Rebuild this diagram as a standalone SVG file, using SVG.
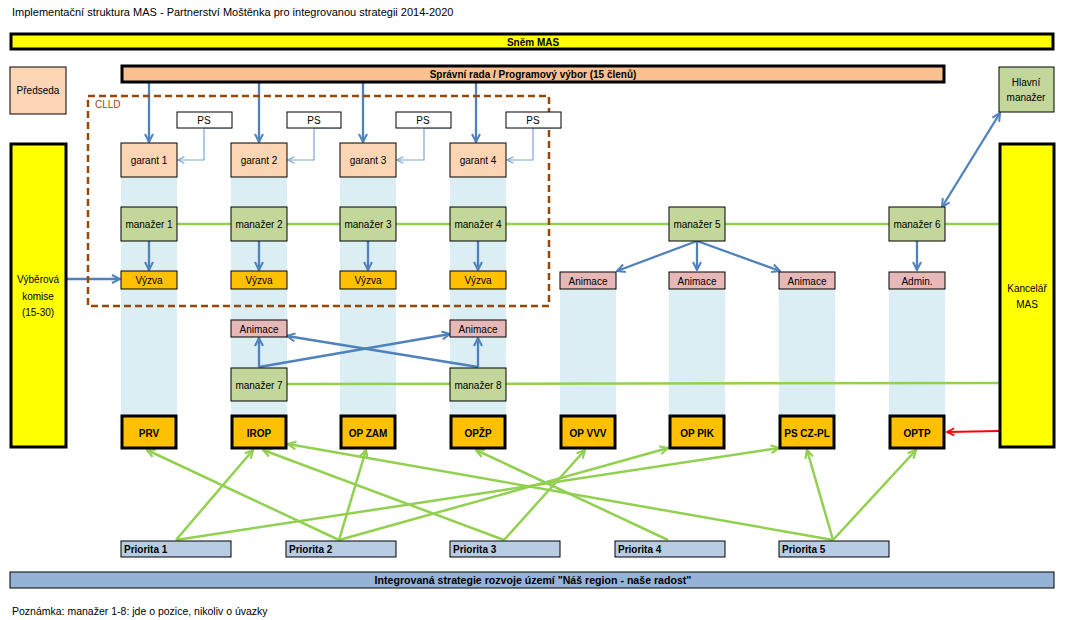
<svg xmlns="http://www.w3.org/2000/svg" width="1067" height="620" viewBox="0 0 1067 620">
<style>
text{font-family:"Liberation Sans",Arial,sans-serif;font-size:10px;fill:#000;dominant-baseline:central}
.c{text-anchor:middle}
.b{font-weight:bold}
.thick{stroke:#000;stroke-width:3}
.thin{stroke:#000;stroke-width:1}
.strip{fill:#DAEEF3}
.gar{fill:#FCD5B4}
.man{fill:#C4D79B}
.vyz{fill:#FFC000}
.ani{fill:#E6B9B8}
.prog{fill:#FFC000;stroke:#000;stroke-width:3}
.pri{fill:#B8CCE4;stroke:#000;stroke-width:1}
.ps{fill:#fff;stroke:#000;stroke-width:1}
.blue{stroke:#4F81BD;stroke-width:2.3;fill:none}
.lblue{stroke:#7FA3D3;stroke-width:1.2;fill:none}
.green{stroke:#92D050;stroke-width:2.5;fill:none}
.red{stroke:#FF0000;stroke-width:2;fill:none}
</style>
<defs>
<marker id="ab" viewBox="0 0 10 10" refX="9" refY="5" markerWidth="10" markerHeight="10" markerUnits="userSpaceOnUse" orient="auto-start-reverse"><path d="M1,1 L9,5 L1,9" fill="none" stroke="#4F81BD" stroke-width="2"/></marker>
<marker id="al" viewBox="0 0 10 10" refX="9" refY="5" markerWidth="8" markerHeight="8" markerUnits="userSpaceOnUse" orient="auto"><path d="M1,1 L9,5 L1,9" fill="none" stroke="#7FA3D3" stroke-width="1.5"/></marker>
<marker id="ag" viewBox="0 0 10 10" refX="9" refY="5" markerWidth="10" markerHeight="10" markerUnits="userSpaceOnUse" orient="auto"><path d="M1,1 L9,5 L1,9" fill="none" stroke="#92D050" stroke-width="2.2"/></marker>
<marker id="ar" viewBox="0 0 10 10" refX="9" refY="5" markerWidth="9" markerHeight="9" markerUnits="userSpaceOnUse" orient="auto"><path d="M1,1 L9,5 L1,9" fill="none" stroke="#FF0000" stroke-width="2"/></marker>
</defs>
<rect width="1067" height="620" fill="#fff"/>
<text x="12" y="12" style="font-size:11px">Implementační struktura MAS - Partnerství Moštěnka pro integrovanou strategii 2014-2020</text>

<g id="strips">
<rect class="strip" x="121" y="177" width="56" height="238"/>
<rect class="strip" x="231" y="177" width="56" height="238"/>
<rect class="strip" x="340" y="177" width="56" height="238"/>
<rect class="strip" x="450" y="177" width="56" height="238"/>
<rect class="strip" x="560" y="289" width="56" height="126"/>
<rect class="strip" x="669" y="289" width="56" height="126"/>
<rect class="strip" x="779" y="289" width="56" height="126"/>
<rect class="strip" x="889" y="289" width="56" height="126"/>
</g>

<g id="connectors">
<line class="green" x1="177" y1="224" x2="999" y2="224"/>
<line class="green" x1="287" y1="384" x2="999" y2="383"/>
<line class="blue" x1="149" y1="83" x2="149" y2="142" marker-end="url(#ab)"/>
<line class="blue" x1="259" y1="83" x2="259" y2="142" marker-end="url(#ab)"/>
<line class="blue" x1="363" y1="83" x2="363" y2="142" marker-end="url(#ab)"/>
<line class="blue" x1="476" y1="83" x2="476" y2="142" marker-end="url(#ab)"/>
<polyline class="lblue" points="232,128 204,128 204,160 178,160" marker-end="url(#al)"/>
<polyline class="lblue" points="341,128 314,128 314,160 288,160" marker-end="url(#al)"/>
<polyline class="lblue" points="451,128 424,128 424,160 397,160" marker-end="url(#al)"/>
<polyline class="lblue" points="561,128 533,128 533,160 507,160" marker-end="url(#al)"/>
<line class="blue" x1="149" y1="241" x2="149" y2="270" marker-end="url(#ab)"/>
<line class="blue" x1="259" y1="241" x2="259" y2="270" marker-end="url(#ab)"/>
<line class="blue" x1="368" y1="241" x2="368" y2="270" marker-end="url(#ab)"/>
<line class="blue" x1="478" y1="241" x2="478" y2="270" marker-end="url(#ab)"/>
<line class="blue" x1="67" y1="279" x2="120" y2="279" marker-end="url(#ab)"/>
<line class="blue" x1="697" y1="241" x2="617" y2="271" marker-end="url(#ab)"/>
<line class="blue" x1="697" y1="241" x2="697" y2="270" marker-end="url(#ab)"/>
<line class="blue" x1="697" y1="241" x2="780" y2="271" marker-end="url(#ab)"/>
<line class="blue" x1="917" y1="241" x2="917" y2="270" marker-end="url(#ab)"/>
<line class="blue" x1="942" y1="207" x2="1000" y2="113" marker-start="url(#ab)" marker-end="url(#ab)"/>
<line class="blue" x1="259" y1="367" x2="259" y2="338" marker-end="url(#ab)"/>
<line class="blue" x1="259" y1="367" x2="450" y2="334" marker-end="url(#ab)"/>
<line class="blue" x1="478" y1="367" x2="478" y2="338" marker-end="url(#ab)"/>
<line class="blue" x1="478" y1="367" x2="287" y2="336" marker-end="url(#ab)"/>
<line class="red" x1="999" y1="431" x2="947" y2="432" marker-end="url(#ar)"/>
<line class="green" x1="176" y1="540" x2="253" y2="450" marker-end="url(#ag)"/>
<line class="green" x1="176" y1="540" x2="779" y2="448" marker-end="url(#ag)"/>
<line class="green" x1="339" y1="540" x2="147" y2="450" marker-end="url(#ag)"/>
<line class="green" x1="339" y1="540" x2="366" y2="450" marker-end="url(#ag)"/>
<line class="green" x1="339" y1="540" x2="668" y2="448" marker-end="url(#ag)"/>
<line class="green" x1="504" y1="540" x2="263" y2="450" marker-end="url(#ag)"/>
<line class="green" x1="504" y1="540" x2="585" y2="450" marker-end="url(#ag)"/>
<line class="green" x1="668" y1="540" x2="476" y2="450" marker-end="url(#ag)"/>
<line class="green" x1="833" y1="540" x2="288" y2="444" marker-end="url(#ag)"/>
<line class="green" x1="833" y1="540" x2="807" y2="450" marker-end="url(#ag)"/>
<line class="green" x1="833" y1="540" x2="916" y2="450" marker-end="url(#ag)"/>
</g>

<g id="clld">
<rect x="88" y="96" width="461" height="210" fill="none" stroke="#974706" stroke-width="2.5" stroke-dasharray="7,4"/>
<text x="95" y="104" style="fill:#974706">CLLD</text>
</g>

<g id="snem"><rect x="11" y="34" width="1042" height="15" fill="#FFFF00" class="thick"/><text class="c b" x="533" y="42">Sněm MAS</text></g>
<g id="sprava"><rect x="122" y="66" width="822" height="16" fill="#FAC090" class="thick"/><text class="c b" x="533" y="74">Správní rada / Programový výbor (15 členů)</text></g>
<g id="predseda"><rect x="10" y="67" width="56" height="47" class="gar thin"/><text class="c" x="38" y="90">Předseda</text></g>
<g id="hlavni"><rect x="999" y="67" width="55" height="45" class="man thin"/><text class="c" x="1026" y="82">Hlavní</text><text class="c" x="1026" y="97">manažer</text></g>
<g id="komise"><rect x="11" y="144" width="55" height="303" fill="#FFFF00" class="thick"/><text class="c" x="38" y="279">Výběrová</text><text class="c" x="38" y="296">komise</text><text class="c" x="38" y="312">(15-30)</text></g>
<g id="kancelar"><rect x="1000" y="144" width="54" height="303" fill="#FFFF00" class="thick"/><text class="c" x="1027" y="288">Kancelář</text><text class="c" x="1027" y="304">MAS</text></g>

<g id="ps1"><rect class="ps" x="177" y="112" width="55" height="16"/><text class="c" x="204" y="120">PS</text></g>
<g id="ps2"><rect class="ps" x="287" y="112" width="54" height="16"/><text class="c" x="314" y="120">PS</text></g>
<g id="ps3"><rect class="ps" x="396" y="112" width="55" height="16"/><text class="c" x="423" y="120">PS</text></g>
<g id="ps4"><rect class="ps" x="506" y="112" width="55" height="16"/><text class="c" x="533" y="120">PS</text></g>

<g id="garant1"><rect class="gar thin" x="121" y="143" width="56" height="34"/><text class="c" x="149" y="160">garant 1</text></g>
<g id="garant2"><rect class="gar thin" x="231" y="143" width="56" height="34"/><text class="c" x="259" y="160">garant 2</text></g>
<g id="garant3"><rect class="gar thin" x="340" y="143" width="56" height="34"/><text class="c" x="368" y="160">garant 3</text></g>
<g id="garant4"><rect class="gar thin" x="450" y="143" width="56" height="34"/><text class="c" x="478" y="160">garant 4</text></g>

<g id="manazer1"><rect class="man thin" x="121" y="207" width="56" height="34"/><text class="c" x="149" y="224">manažer 1</text></g>
<g id="manazer2"><rect class="man thin" x="231" y="207" width="56" height="34"/><text class="c" x="259" y="224">manažer 2</text></g>
<g id="manazer3"><rect class="man thin" x="340" y="207" width="56" height="34"/><text class="c" x="368" y="224">manažer 3</text></g>
<g id="manazer4"><rect class="man thin" x="450" y="207" width="56" height="34"/><text class="c" x="478" y="224">manažer 4</text></g>
<g id="manazer5"><rect class="man thin" x="669" y="207" width="56" height="34"/><text class="c" x="697" y="224">manažer 5</text></g>
<g id="manazer6"><rect class="man thin" x="889" y="207" width="56" height="34"/><text class="c" x="917" y="224">manažer 6</text></g>

<g id="vyzva1"><rect class="vyz thin" x="121" y="271" width="56" height="18"/><text class="c" x="149" y="280">Výzva</text></g>
<g id="vyzva2"><rect class="vyz thin" x="231" y="271" width="56" height="18"/><text class="c" x="259" y="280">Výzva</text></g>
<g id="vyzva3"><rect class="vyz thin" x="340" y="271" width="56" height="18"/><text class="c" x="368" y="280">Výzva</text></g>
<g id="vyzva4"><rect class="vyz thin" x="450" y="271" width="56" height="18"/><text class="c" x="478" y="280">Výzva</text></g>

<g id="animace5"><rect class="ani thin" x="560" y="272" width="56" height="17"/><text class="c" x="588" y="281">Animace</text></g>
<g id="animace6"><rect class="ani thin" x="669" y="272" width="56" height="17"/><text class="c" x="697" y="281">Animace</text></g>
<g id="animace7"><rect class="ani thin" x="779" y="272" width="56" height="17"/><text class="c" x="807" y="281">Animace</text></g>
<g id="admin"><rect class="ani thin" x="889" y="272" width="56" height="17"/><text class="c" x="917" y="281">Admin.</text></g>

<g id="animace2"><rect class="ani thin" x="231" y="320" width="56" height="17"/><text class="c" x="259" y="329">Animace</text></g>
<g id="animace4"><rect class="ani thin" x="450" y="320" width="56" height="17"/><text class="c" x="478" y="329">Animace</text></g>
<g id="manazer7"><rect class="man thin" x="231" y="368" width="56" height="33"/><text class="c" x="259" y="385">manažer 7</text></g>
<g id="manazer8"><rect class="man thin" x="450" y="368" width="56" height="33"/><text class="c" x="478" y="385">manažer 8</text></g>

<g id="prv"><rect class="prog" x="122" y="416" width="54" height="32"/><text class="c b" x="149" y="433">PRV</text></g>
<g id="irop"><rect class="prog" x="232" y="416" width="54" height="32"/><text class="c b" x="259" y="433">IROP</text></g>
<g id="opzam"><rect class="prog" x="341" y="416" width="54" height="32"/><text class="c b" x="368" y="433">OP ZAM</text></g>
<g id="opzp"><rect class="prog" x="451" y="416" width="54" height="32"/><text class="c b" x="478" y="433">OPŽP</text></g>
<g id="opvvv"><rect class="prog" x="561" y="416" width="54" height="32"/><text class="c b" x="588" y="433">OP VVV</text></g>
<g id="oppik"><rect class="prog" x="670" y="416" width="54" height="32"/><text class="c b" x="697" y="433">OP PIK</text></g>
<g id="pscz"><rect class="prog" x="780" y="416" width="54" height="32"/><text class="c b" x="807" y="433">PS CZ-PL</text></g>
<g id="optp"><rect class="prog" x="890" y="416" width="54" height="32"/><text class="c b" x="917" y="433">OPTP</text></g>

<g id="priorita1"><rect class="pri" x="121" y="541" width="110" height="16"/><text class="b" x="124" y="549">Priorita 1</text></g>
<g id="priorita2"><rect class="pri" x="286" y="541" width="110" height="16"/><text class="b" x="289" y="549">Priorita 2</text></g>
<g id="priorita3"><rect class="pri" x="450" y="541" width="110" height="16"/><text class="b" x="453" y="549">Priorita 3</text></g>
<g id="priorita4"><rect class="pri" x="615" y="541" width="110" height="16"/><text class="b" x="618" y="549">Priorita 4</text></g>
<g id="priorita5"><rect class="pri" x="779" y="541" width="110" height="16"/><text class="b" x="782" y="549">Priorita 5</text></g>

<g id="strategie"><rect x="10" y="572" width="1044" height="16" fill="#95B3D7" stroke="#000" stroke-width="1"/><text class="c b" x="533" y="580" style="font-size:10.6px">Integrovaná strategie rozvoje území "Náš region - naše radost"</text></g>
<text x="12" y="611" style="font-size:10.5px">Poznámka: manažer 1-8: jde o pozice, nikoliv o úvazky</text>
</svg>
